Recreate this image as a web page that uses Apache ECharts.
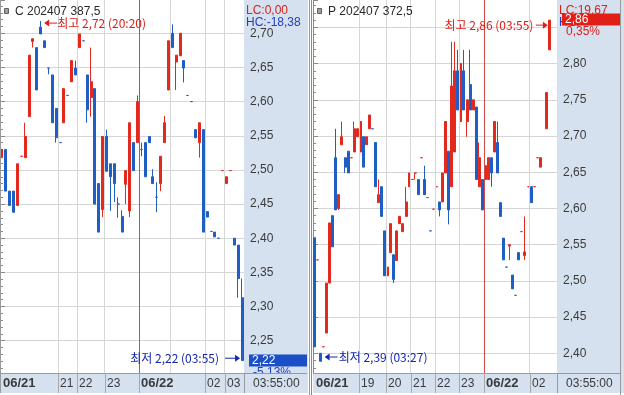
<!DOCTYPE html>
<html><head><meta charset="utf-8">
<script src="https://cdn.jsdelivr.net/npm/echarts@6/dist/echarts.min.js"></script>
<style>html,body{margin:0;padding:0;background:#fff}#main{width:624px;height:395px}</style>
</head><body><div id="main"></div>
<script>
// ---- data: [open, close, low, high] ----
const leftCandles = [
 [2.518,2.530,2.518,2.530],[2.530,2.469,2.469,2.530],[2.469,2.448,2.448,2.469],[2.469,2.438,2.438,2.469],
 [2.448,2.509,2.448,2.509],[2.520,2.520,2.520,2.520],[2.518,2.549,2.518,2.569],[2.578,2.668,2.578,2.668],
 [2.688,2.692,2.679,2.692],[2.679,2.617,2.617,2.679],[2.709,2.699,2.699,2.718],[2.689,2.679,2.679,2.689],
 [2.649,2.649,2.640,2.649],[2.639,2.569,2.569,2.639],[2.590,2.547,2.540,2.590],[2.540,2.540,2.540,2.540],
 [2.569,2.619,2.569,2.619],[2.609,2.609,2.609,2.609],[2.629,2.660,2.629,2.660],[2.649,2.639,2.639,2.660],
 [2.679,2.699,2.679,2.699],[2.689,2.689,2.689,2.689],[2.639,2.588,2.569,2.639],[2.606,2.629,2.578,2.679],
 [2.619,2.450,2.450,2.619],[2.480,2.409,2.409,2.480],[2.442,2.549,2.431,2.549],[2.549,2.498,2.498,2.559],
 [2.509,2.490,2.440,2.509],[2.509,2.480,2.453,2.509],[2.450,2.450,2.430,2.460],[2.432,2.409,2.409,2.441],
 [2.479,2.499,2.450,2.499],[2.440,2.569,2.431,2.569],[2.540,2.499,2.499,2.540],[2.540,2.600,2.540,2.609],
 [2.530,2.530,2.520,2.540],[2.540,2.490,2.490,2.540],[2.549,2.540,2.540,2.549],[2.490,2.480,2.480,2.501],
 [2.460,2.460,2.438,2.482],[2.480,2.520,2.469,2.520],[2.540,2.569,2.540,2.579],[2.617,2.689,2.617,2.689],
 [2.700,2.679,2.679,2.713],[2.658,2.668,2.617,2.668],[2.667,2.700,2.667,2.700],[2.660,2.649,2.628,2.660],
 [2.609,2.609,2.609,2.609],[2.600,2.600,2.600,2.600],[2.559,2.547,2.547,2.559],[2.540,2.569,2.518,2.569],
 [2.559,2.409,2.409,2.559],[2.439,2.431,2.431,2.439],[2.410,2.410,2.410,2.410],[2.409,2.402,2.402,2.409],
 [2.400,2.400,2.400,2.400],[2.499,2.499,2.499,2.499],[2.480,2.490,2.480,2.490],[2.499,2.499,2.499,2.499],
 [2.400,2.390,2.390,2.400],[2.390,2.341,2.313,2.390],[2.313,2.221,2.221,2.341]
];
const rightCandles = [
 [2.559,2.409,2.409,2.559],[2.529,2.529,2.529,2.529],[2.400,2.389,2.389,2.400],[2.409,2.409,2.409,2.409],
 [2.428,2.497,2.428,2.497],[2.497,2.580,2.497,2.580],[2.590,2.547,2.547,2.590],[2.670,2.598,2.598,2.710],
 [2.600,2.619,2.598,2.619],[2.688,2.699,2.688,2.720],[2.670,2.657,2.649,2.670],[2.679,2.649,2.649,2.679],
 [2.670,2.670,2.670,2.670],[2.678,2.710,2.678,2.720],[2.699,2.710,2.699,2.710],[2.678,2.720,2.678,2.720],
 [2.699,2.657,2.657,2.699],[2.688,2.699,2.688,2.699],[2.710,2.729,2.710,2.729],[2.710,2.710,2.710,2.710],
 [2.691,2.630,2.630,2.691],[2.608,2.619,2.608,2.640],[2.630,2.589,2.589,2.630],[2.569,2.507,2.507,2.569],
 [2.507,2.519,2.507,2.519],[2.539,2.579,2.539,2.579],[2.536,2.502,2.497,2.536],[2.528,2.569,2.528,2.569],
 [2.579,2.589,2.579,2.589],[2.568,2.579,2.568,2.579],[2.589,2.609,2.589,2.630],[2.630,2.649,2.630,2.649],
 [2.640,2.640,2.640,2.640],[2.649,2.649,2.640,2.649],[2.640,2.619,2.619,2.640],[2.670,2.670,2.670,2.670],
 [2.640,2.619,2.619,2.659],[2.615,2.615,2.615,2.615],[2.569,2.569,2.569,2.569],[2.599,2.599,2.599,2.599],
 [2.630,2.630,2.630,2.630],[2.609,2.598,2.589,2.609],[2.609,2.649,2.609,2.649],[2.649,2.720,2.649,2.720],
 [2.679,2.598,2.578,2.679],[2.630,2.769,2.630,2.830],[2.678,2.790,2.678,2.830],[2.790,2.736,2.736,2.819],
 [2.720,2.800,2.720,2.800],[2.790,2.736,2.736,2.819],[2.720,2.750,2.699,2.750],[2.771,2.736,2.736,2.819],
 [2.736,2.750,2.736,2.750],[2.740,2.640,2.640,2.740],[2.630,2.670,2.630,2.691],[2.640,2.598,2.598,2.640],
 [2.640,2.659,2.640,2.659],[2.640,2.670,2.640,2.670],[2.670,2.649,2.630,2.670],[2.678,2.720,2.678,2.720],
 [2.691,2.649,2.649,2.720],[2.608,2.589,2.589,2.608],[2.559,2.529,2.529,2.559],[2.519,2.519,2.519,2.519],
 [2.548,2.550,2.529,2.550],[2.508,2.489,2.489,2.508],[2.480,2.480,2.480,2.480],[2.539,2.529,2.529,2.539],
 [2.568,2.568,2.568,2.568],[2.535,2.540,2.529,2.589],[2.630,2.630,2.630,2.630],[2.630,2.608,2.608,2.630],
 [2.630,2.630,2.630,2.630],[2.670,2.670,2.670,2.670],[2.657,2.670,2.657,2.670],'-',
 [2.710,2.760,2.710,2.760],[2.819,2.860,2.819,2.860]
];
const leftSlots = 63, rightSlots = 80;
const leftTickAt = [0,15,20,27,36,53,58];
const leftTickText = ['06/21','21','22','23','06/22','02','03'];
const leftGridAt = [15,20,27,36,44,53,58];
const leftDayAt = 36;
const rightTickAt = [0,15,24,32,40,48,56,71];
const rightTickText = ['06/21','19','20','21','22','23','06/22','02'];
const rightGridAt = [15,24,32,40,48,56,71];
const rightDayAt = 56;
const leftTitle = 'C 202407 387,5', rightTitle = 'P 202407 372,5';
const leftLC = 'LC:0,00', leftHC = 'HC:-18,38', rightLC = 'LC:19,67', rightHC = 'HC:';
const leftHigh = {idx:10, value:2.72, time:'20:20'}, leftLow = {idx:62, value:2.22, time:'03:55'};
const rightHigh = {idx:77, value:2.86, time:'03:55'}, rightLow = {idx:2, value:2.39, time:'03:27'};
const leftChange = '-5,13%', rightChange = '0,35%';
const lastTime = '03:55:00';

const RED = '#e3281e', BLUE = '#1f5ec4', BAND = '#d6e1ef', GRIDC = '#d6d6d6', AXC = '#8a8a8a';
const fmt = v => v.toFixed(2).replace('.', ',');
const idx = n => Array.from({length:n}, (_, i) => String(i));

const chart = echarts.init(document.getElementById('main'));
function yAxisFor(g, min, max, lo, hi) {
  return {type:'value', gridIndex:g, position:'right', min, max, interval:0.05,
    axisLine:{show:true, lineStyle:{color:AXC}},
    axisTick:{show:true, length:5, lineStyle:{color:AXC}},
    minorTick:{show:true, splitNumber:5, length:3, lineStyle:{color:AXC}},
    splitLine:{show:true, showMinLine:false, showMaxLine:false, lineStyle:{color:GRIDC}},
    axisLabel:{margin:6, color:'#3a3a3a', fontSize:12, fontFamily:'Liberation Sans',
      showMaxLabel:false, showMinLabel:false,
      formatter: v => (v < lo - 1e-6 || v > hi + 1e-6) ? '' : fmt(v)}};
}
function gridLines(xi, yi, at, day) {
  return {type:'line', xAxisIndex:xi, yAxisIndex:yi, data:[], symbol:'none', silent:true,
    markLine:{silent:true, symbol:['none','none'], label:{show:false}, animation:false,
      lineStyle:{color:GRIDC, width:1, type:'solid'},
      data: at.map(b => b === day ? {xAxis:b, lineStyle:{color:'#d04a4a', width:1, type:'solid'}} : {xAxis:b})}};
}
const candleStyle = {color:RED, color0:BLUE, borderColor:RED, borderColor0:BLUE, borderWidth:1};
const option = {
  animation:false,
  backgroundColor: BAND,
  grid:[
    {left:0, width:244, top:0, height:374.9, show:true, backgroundColor:'#ffffff', borderWidth:0},
    {left:313, width:244, top:0, height:389.5, show:true, backgroundColor:'#ffffff', borderWidth:0}
  ],
  xAxis:[
    {type:'category', gridIndex:0, data:idx(leftSlots), boundaryGap:true, show:false},
    {type:'value', gridIndex:0, min:0, max:leftSlots, show:false},
    {type:'category', gridIndex:1, data:idx(rightSlots), boundaryGap:true, show:false},
    {type:'value', gridIndex:1, min:0, max:rightSlots, show:false}
  ],
  yAxis:[ yAxisFor(0, 2.20, 2.7487, 2.25, 2.70), yAxisFor(1, 2.35, 2.8878, 2.40, 2.80) ],
  series:[
    gridLines(1, 0, leftGridAt, leftDayAt),
    gridLines(3, 1, rightGridAt, rightDayAt),
    {type:'candlestick', xAxisIndex:0, yAxisIndex:0, data:leftCandles, barWidth:2.5, itemStyle:candleStyle},
    {type:'candlestick', xAxisIndex:2, yAxisIndex:1, data:rightCandles, barWidth:2.5, itemStyle:candleStyle}
  ]
};
chart.setOption(option);

// ---- overlay (positions from the library's scales) ----
const xv = (p, v) => chart.convertToPixel({xAxisIndex: p === 0 ? 1 : 3}, v);
const yv = (p, v) => chart.convertToPixel({yAxisIndex: p}, v);
const g = [];
const F = (s, b) => (b ? 'bold ' : '') + s + 'px "Liberation Sans"';
const FK = s => s + 'px "Noto Sans CJK KR"';
function txt(x, y, t, fill, font, align, z) {
  g.push({type:'text', x, y, z:z || 120, style:{text:t, fill, font, align:align || 'left', verticalAlign:'middle'}});
}
function rect(x, y, w, h, fill, z, stroke) {
  g.push({type:'rect', z:z || 110, shape:{x, y, width:w, height:h}, style:{fill, stroke:stroke || null, lineWidth:1}});
}
function line(x1, y1, x2, y2, stroke, z) {
  g.push({type:'line', z:z || 115, shape:{x1, y1, x2, y2}, style:{stroke, lineWidth:1}});
}
function arrow(tipX, y, dir, color, len) {
  const hx = tipX - dir * 5;
  line(hx, y, hx - dir * len, y, color, 125);
  g.push({type:'polygon', z:125, shape:{points:[[tipX, y], [hx, y - 3.5], [hx, y + 3.5]]}, style:{fill:color}});
}
const panels = [
  {p:0, x0:0, axX:xv(0, leftSlots), ticks:leftTickAt, texts:leftTickText, title:leftTitle, LC:leftLC, HC:leftHC,
   hi:leftHigh, lo:leftLow, chg:leftChange, last:leftCandles[leftCandles.length - 1]},
  {p:1, x0:313, axX:xv(1, rightSlots), ticks:rightTickAt, texts:rightTickText, title:rightTitle, LC:rightLC, HC:rightHC,
   hi:rightHigh, lo:rightLow, chg:rightChange, last:rightCandles[rightCandles.length - 1]}
];
const RTXT = '#d8201c', BTXT = '#1426b0';
panels.forEach(P => {
  const colR = P.axX + 63;
  rect(P.x0, 373, colR - P.x0, 20, BAND, 110);
  line(P.x0, 373.5, colR, 373.5, '#9a9a9a');
  line(Math.round(P.axX) + 0.5, 373, Math.round(P.axX) + 0.5, 393, '#9a9a9a');
  P.ticks.forEach((b, i) => {
    const x = xv(P.p, b);
    if (b > 0) line(Math.round(x) + 0.5, 373, Math.round(x) + 0.5, 393, '#a8a8a8');
    const bold = P.texts[i].indexOf('/') >= 0;
    txt(Math.round(x) + (b > 0 ? 2 : 3), 383.5, P.texts[i], '#3a3a3a', F(bold ? 13 : 12, bold));
  });
  txt(P.axX + 9, 383.5, lastTime, '#3a3a3a', F(12));
  rect(P.x0 + 4.5, 8.5, 4, 5, '#a0a0a0', 120, '#606060');
  txt(P.x0 + 15, 11.5, P.title, '#2a2a2a', F(12));
  txt(P.axX + 2, 10.5, P.LC, RTXT, F(12));
  txt(P.axX + 2, 22.5, P.HC, '#2040c0', F(12));
  const lc = P.last[1];
  const yl = yv(P.p, lc);
  const isUp = P.last[1] >= P.last[0];
  const boxC = isUp ? '#e02018' : '#1a4fc8';
  rect(P.axX + 5, Math.round(yl) - 6.5, 58, 12, boxC, 130);
  txt(P.axX + 8, Math.round(yl), fmt(lc), '#ffffff', F(12), 'left', 135);
  txt(P.axX + 9, Math.round(yl) + 12, P.chg, isUp ? RTXT : '#2040c0', F(12), 'left', 105);
  const hx = xv(P.p, P.hi.idx + 0.5), hy = yv(P.p, P.hi.value);
  const lx = xv(P.p, P.lo.idx + 0.5), ly = yv(P.p, P.lo.value);
  const hiTxt = '최고 ' + fmt(P.hi.value) + ' (' + P.hi.time + ')';
  const loTxt = '최저 ' + fmt(P.lo.value) + ' (' + P.lo.time + ')';
  if (P.p === 0) {
    arrow(hx + 3.5, hy + 3.5, -1, RTXT, 8); txt(hx + 16.5, hy + 3.5, hiTxt, RTXT, FK(12));
    arrow(lx - 2, ly - 3, 1, BTXT, 10); txt(lx - 23, ly - 3, loTxt, BTXT, FK(12), 'right');
  } else {
    arrow(hx - 1.5, hy + 5, 1, RTXT, 7); txt(hx - 16, hy + 5, hiTxt, RTXT, FK(12), 'right');
    arrow(lx + 4, ly - 3.5, -1, BTXT, 8); txt(lx + 18, ly - 3.5, loTxt, BTXT, FK(12));
  }
});
line(0.5, 0, 0.5, 393, '#9a9a9a');
rect(308, 0, 5, 395, '#ffffff', 140);
line(309.5, 0, 309.5, 395, '#9a9a9a', 141);
line(311.5, 0, 311.5, 395, '#b07878', 141);
line(620.5, 0, 620.5, 395, '#9a9a9a', 141);
rect(0, 393, 624, 2, '#ffffff', 140);
chart.setOption({graphic: g});
</script></body></html>
